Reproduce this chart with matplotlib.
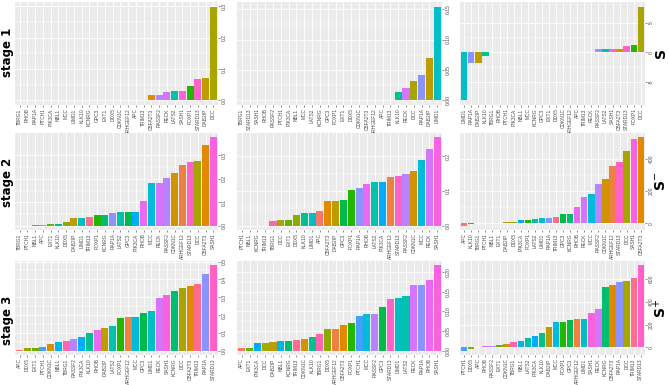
import matplotlib
matplotlib.use("Agg")
import matplotlib.pyplot as plt
import numpy as np

# gene order used for the colour palette (alphabetical, as ggplot does)
genes_alpha = ["APC", "ARHGEF12", "CBFA2T3", "CDKN1C", "DAB2IP", "DCC", "DDX5",
               "EXT1", "FOXP1", "GPC3", "KCNRG", "KLK10", "LATS2", "LIMD1", "MCC",
               "NBL1", "PIK3CA", "PTCH1", "RAP1A", "RASSF2", "RECK", "RHOB",
               "SASH1", "STARD13", "TBRG1", "TRIM13"]

# stage 1
p11_genes = ["TBRG1", "RHOB", "RAP1A", "PTCH1", "PIK3CA", "NBL1", "MCC", "LIMD1",
             "KLK10", "KCNRG", "GPC3", "EXT1", "DDX5", "CDKN1C", "ARHGEF12", "APC",
             "TRIM13", "CBFA2T3", "RASSF2", "RECK", "LATS2", "SASH1", "FOXP1",
             "STARD13", "DAB2IP", "DCC"]
p11_vals = [0, 0, 0, 0, 0, 0, 0, 0, 0, 0, 0, 0, 0, 0, 0, 0, 0,
            0.016, 0.018, 0.025, 0.031, 0.031, 0.045, 0.068, 0.070, 0.299]

p12_genes = ["TBRG1", "STARD13", "SASH1", "RHOB", "RASSF2", "PTCH1", "PIK3CA",
             "NBL1", "MCC", "LATS2", "KCNRG", "GPC3", "FOXP1", "EXT1", "DDX5",
             "CDKN1C", "CBFA2T3", "ARHGEF12", "APC", "TRIM13", "KLK10", "RECK",
             "DCC", "RAP1A", "DAB2IP", "LIMD1"]
p12_vals = [0, 0, 0, 0, 0, 0, 0, 0, 0, 0, 0, 0, 0, 0, 0, 0, 0, 0, 0, 0,
            0.014, 0.021, 0.032, 0.042, 0.069, 0.154]

p13_genes = ["LIMD1", "RAP1A", "DAB2IP", "KLK10", "TBRG1", "RHOB", "PTCH1",
             "PIK3CA", "NBL1", "MCC", "KCNRG", "GPC3", "EXT1", "DDX5", "CDKN1C",
             "ARHGEF12", "APC", "TRIM13", "RECK", "RASSF2", "LATS2", "SASH1",
             "CBFA2T3", "STARD13", "FOXP1", "DCC"]
p13_vals = [-8.2, -1.9, -1.9, -0.55, 0, 0, 0, 0, 0, 0, 0, 0, 0, 0, 0, 0, 0, 0,
            0.08, 0.55, 0.55, 0.55, 0.55, 1.1, 1.2, 7.8]

# stage 2
p21_genes = ["TBRG1", "PTCH1", "NBL1", "APC", "EXT1", "KLK10", "DDX5", "DAB2IP",
             "LIMD1", "TRIM13", "FOXP1", "KCNRG", "RAP1A", "LATS2", "GPC3",
             "PIK3CA", "RHOB", "MCC", "RECK", "RASSF2", "CDKN1C", "ARHGEF12",
             "STARD13", "DCC", "CBFA2T3", "SASH1"]
p21_vals = [0, 0, 0.001, 0.002, 0.007, 0.007, 0.017, 0.031, 0.034, 0.036, 0.047,
            0.047, 0.055, 0.056, 0.059, 0.060, 0.103, 0.181, 0.181, 0.205, 0.223,
            0.259, 0.274, 0.278, 0.344, 0.377]

p22_genes = ["PTCH1", "NBL1", "KCNRG", "TRIM13", "TBRG1", "DCC", "EXT1", "DDX5",
             "KLK10", "LIMD1", "APC", "CBFA2T3", "DAB2IP", "GPC3", "FOXP1", "RAP1A",
             "RHOB", "LATS2", "PIK3CA", "ARHGEF12", "STARD13", "RASSF2", "CDKN1C",
             "MCC", "RECK", "SASH1"]
p22_vals = [0, 0, 0, 0, 0.012, 0.016, 0.016, 0.031, 0.035, 0.037, 0.043, 0.070,
            0.070, 0.074, 0.103, 0.107, 0.119, 0.126, 0.126, 0.139, 0.144, 0.150,
            0.157, 0.188, 0.220, 0.254]

p23_genes = ["APC", "KLK10", "TBRG1", "PTCH1", "NBL1", "EXT1", "DAB2IP", "DDX5",
             "PIK3CA", "FOXP1", "LATS2", "LIMD1", "RAP1A", "TRIM13", "GPC3", "KCNRG",
             "RHOB", "RECK", "MCC", "RASSF2", "CDKN1C", "ARHGEF12", "STARD13", "DCC",
             "SASH1", "CBFA2T3"]
p23_vals = [-14, -5, -1, 0, 1, 2, 10, 10, 20, 22, 26, 32, 36, 40, 55, 55, 99, 162,
            184, 246, 275, 356, 380, 446, 519, 531]

# stage 3
p31_genes = ["APC", "DDX5", "EXT1", "PTCH1", "CDKN1C", "NBL1", "TBRG1", "RASSF2",
             "PIK3CA", "KLK10", "RHOB", "DAB2IP", "LATS2", "FOXP1", "ARHGEF12", "MCC",
             "GPC3", "LIMD1", "RECK", "SASH1", "KCNRG", "DCC", "CBFA2T3", "TRIM13",
             "RAP1A", "STARD13"]
p31_vals = [0.004, 0.018, 0.018, 0.021, 0.037, 0.048, 0.055, 0.068, 0.077, 0.098,
            0.116, 0.129, 0.139, 0.182, 0.189, 0.189, 0.209, 0.225, 0.298, 0.313,
            0.332, 0.352, 0.361, 0.375, 0.429, 0.479]

p32_genes = ["APC", "EXT1", "PIK3CA", "DCC", "DAB2IP", "NBL1", "KCNRG", "TRIM13",
             "CDKN1C", "KLK10", "TBRG1", "DDX5", "ARHGEF12", "CBFA2T3", "FOXP1",
             "PTCH1", "MCC", "RASSF2", "GPC3", "STARD13", "LIMD1", "LATS2", "RECK",
             "RAP1A", "RHOB", "SASH1"]
p32_vals = [0.007, 0.007, 0.019, 0.020, 0.023, 0.025, 0.025, 0.026, 0.029, 0.034,
            0.043, 0.056, 0.056, 0.066, 0.071, 0.087, 0.094, 0.094, 0.111, 0.131,
            0.133, 0.138, 0.166, 0.166, 0.179, 0.217]

p33_genes = ["PTCH1", "DDX5", "APC", "RHOB", "RASSF2", "EXT1", "CDKN1C", "TBRG1",
             "NBL1", "LATS2", "PIK3CA", "KLK10", "DAB2IP", "MCC", "FOXP1", "GPC3",
             "ARHGEF12", "LIMD1", "SASH1", "RECK", "KCNRG", "CBFA2T3", "RAP1A", "DCC",
             "TRIM13", "STARD13"]
p33_vals = [-31, -14, 0, 9, 9, 20, 31, 43, 54, 83, 100, 123, 177, 220, 220, 240,
            246, 249, 306, 334, 534, 551, 571, 580, 614, 723]

# value-axis breaks per panel
p11_ticks = [0, 0.1, 0.2, 0.3]
p12_ticks = [0, 0.05, 0.10, 0.15]
p13_ticks = [-5, 0, 5]
p21_ticks = [0, 0.1, 0.2, 0.3]
p22_ticks = [0, 0.1, 0.2]
p23_ticks = [0, 200, 400]
p31_ticks = [0, 0.1, 0.2, 0.3, 0.4, 0.5]
p32_ticks = [0, 0.05, 0.10, 0.15, 0.20]
p33_ticks = [0, 200, 400, 600]

row_labels = ["stage 1", "stage 2", "stage 3"]
side_labels = ["S", "S$^{-}$", "S$^{+}$"]


def hue_colour(h, c=100.0, l=65.0):
    """ggplot-style hcl() colour -> rgb tuple"""
    hr = np.deg2rad(h)
    U, V = c * np.cos(hr), c * np.sin(hr)
    Xn, Yn, Zn = 95.047, 100.0, 108.883
    un = 4 * Xn / (Xn + 15 * Yn + 3 * Zn)
    vn = 9 * Yn / (Xn + 15 * Yn + 3 * Zn)
    Y = Yn * ((l + 16) / 116) ** 3
    u = U / (13 * l) + un
    v = V / (13 * l) + vn
    X = 9.0 * Y * u / (4 * v)
    Z = -X / 3 - 5 * Y + 3 * Y / v
    xyz = np.array([X, Y, Z]) / 100.0
    m = np.array([[3.240479, -1.537150, -0.498535],
                  [-0.969256, 1.875992, 0.041556],
                  [0.055648, -0.204043, 1.057311]])
    rgb = m @ xyz
    rgb = np.where(rgb > 0.0031308, 1.055 * np.power(np.clip(rgb, 0, None), 1 / 2.4) - 0.055,
                   12.92 * rgb)
    return tuple(np.clip(rgb, 0, 1))


n = len(genes_alpha)
gene_colour = {g: hue_colour(15 + 360.0 * i / n) for i, g in enumerate(genes_alpha)}

panels = [
    [(p11_genes, p11_vals, p11_ticks, "%.1f"), (p12_genes, p12_vals, p12_ticks, "%.2f"),
     (p13_genes, p13_vals, p13_ticks, "%d")],
    [(p21_genes, p21_vals, p21_ticks, "%.1f"), (p22_genes, p22_vals, p22_ticks, "%.1f"),
     (p23_genes, p23_vals, p23_ticks, "%d")],
    [(p31_genes, p31_vals, p31_ticks, "%.1f"), (p32_genes, p32_vals, p32_ticks, "%.2f"),
     (p33_genes, p33_vals, p33_ticks, "%d")],
]

W, H = 669, 385
fig = plt.figure(figsize=(W / 100, H / 100), dpi=100)

# panel boxes in pixels
col_x = [(15, 218), (237, 442), (460, 645)]
row_y = [(2, 105), (133, 230), (261, 355)]
stage_y = [52, 182, 320]

small_font = ["Liberation Sans Narrow", "Liberation Sans", "DejaVu Sans"]

for r in range(3):
    for c in range(3):
        genes, vals, ticks, fmt = panels[r][c]
        x0, x1 = col_x[c]
        y0, y1 = row_y[r]
        ax = fig.add_axes([x0 / W, 1 - y1 / H, (x1 - x0) / W, (y1 - y0) / H])
        ax.set_facecolor("#EBEBEB")
        xs = np.arange(len(genes))
        ax.bar(xs, vals, width=0.9, color=[gene_colour[g] for g in genes], zorder=3)

        lo = min(0, min(vals))
        hi = max(0, max(vals))
        rng = hi - lo
        ax.set_ylim(lo - 0.05 * rng, hi + 0.05 * rng)
        ax.set_xlim(-0.6, len(genes) - 0.4)

        ax.set_xticks(xs)
        ax.set_xticklabels(genes, rotation=90, fontsize=3.5, family=small_font,
                           color="#4D4D4D")
        ax.set_yticks(ticks)
        ax.set_yticks([(a + b) / 2 for a, b in zip(ticks[:-1], ticks[1:])], minor=True)
        ax.yaxis.tick_right()
        ax.set_yticklabels([fmt % t for t in ticks], fontsize=3.6, family=small_font,
                           color="#4D4D4D", rotation=90, va="center", ha="left")
        ax.tick_params(axis="both", which="major", length=1.5, width=0.4,
                       color="#333333", pad=1)
        ax.tick_params(axis="y", which="minor", length=0)

        ax.grid(True, which="major", color="white", linewidth=0.6, zorder=0)
        ax.grid(True, which="minor", axis="y", color="white", linewidth=0.3, zorder=0)
        ax.set_axisbelow(True)
        for s in ax.spines.values():
            s.set_visible(False)

    fig.text(8 / W, 1 - stage_y[r] / H, row_labels[r], rotation=90, fontsize=8.5,
             fontweight="bold", ha="center", va="center")
    fig.text(661 / W, 1 - (row_y[r][0] + row_y[r][1]) / 2 / H, side_labels[r],
             rotation=90, fontsize=10, fontweight="bold", ha="center", va="center")

fig.savefig("out.png", dpi=100)
